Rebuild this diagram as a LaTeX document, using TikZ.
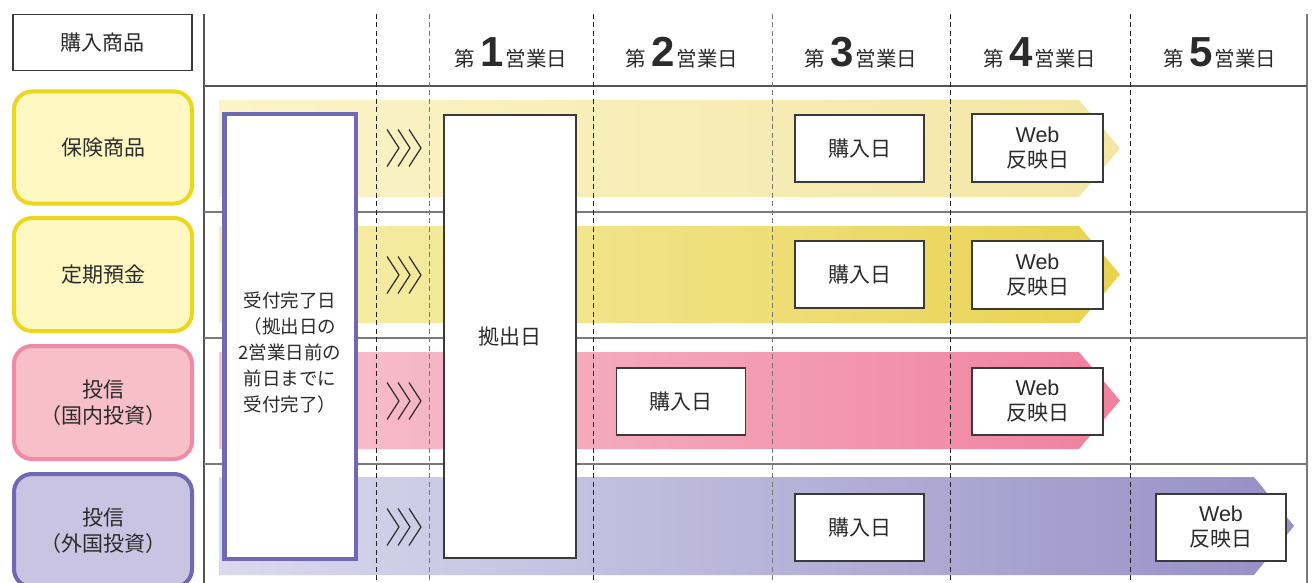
\documentclass[tikz,border=0pt]{standalone}
\usepackage{fontspec}
\setmainfont{Noto Sans CJK JP}
\newfontfamily\lib{Liberation Sans}
\definecolor{ink}{HTML}{2B2B2B}
\definecolor{gline}{HTML}{555555}
\definecolor{gline2}{HTML}{7A7A7A}
\definecolor{dashdark}{HTML}{222222}
\definecolor{dashgray}{HTML}{777777}
\definecolor{boxline}{HTML}{3A3A3A}
\definecolor{yelB}{HTML}{EBD71E}
\definecolor{yelF}{HTML}{FFF8C2}
\definecolor{pinkB}{HTML}{F08BA6}
\definecolor{pinkF}{HTML}{F7BFC8}
\definecolor{purB}{HTML}{6F68B4}
\definecolor{purF}{HTML}{C9C4E2}
\definecolor{rOneL}{HTML}{FBF4C8}
\definecolor{rOneR}{HTML}{F3E6A5}
\definecolor{rTwoL}{HTML}{F7F0B2}
\definecolor{rTwoR}{HTML}{E8D24F}
\definecolor{rThrL}{HTML}{F7C5D1}
\definecolor{rThrR}{HTML}{F0819E}
\definecolor{rFouL}{HTML}{DBD9EE}
\definecolor{rFouR}{HTML}{978FC5}
\newcommand\daynum[1]{第{\lib\bfseries\fontsize{42}{42}\selectfont\hspace{5pt}#1\hspace{2pt}}営業日}
\tikzset{
  gridline/.style={draw=#1, line width=1.2pt},
  dayline/.style={draw=#1, line width=1pt, dash pattern=on 5pt off 3.5pt},
  lbl/.style={rounded corners=18pt, line width=4pt, minimum width=178pt, minimum height=113pt, text=ink, align=center, font=\fontsize{21}{26}\selectfont, inner sep=0pt},
  wbox/.style={draw=boxline, fill=white, line width=1.2pt, align=center, text=ink, font=\fontsize{21}{25}\selectfont, inner sep=0pt},
  chev/.style={draw=ink, line width=1.2pt},
  hdr/.style={text=ink, font=\fontsize{20.5}{24}\selectfont, anchor=base, inner sep=0pt}
}
\begin{document}
\begin{tikzpicture}[x=1pt,y=-1pt]
\useasboundingbox[fill=white] (0,0) rectangle (1312,583);
% grid
\draw[gridline=gline] (204,14) -- (204,590);
\draw[draw=gline2, line width=2pt] (1307,14) -- (1307,590);
\draw[gridline=gline] (204,86) -- (1307,86);
\foreach \yy in {212,338,464} \draw[gridline=gline2] (204,\yy) -- (1307,\yy);
% bands
\shade[left color=rOneL, right color=rOneR] (219,100) -- (1079,100) -- (1120,148.5) -- (1079,197) -- (219,197) -- cycle;
\shade[left color=rTwoL, right color=rTwoR] (219,226) -- (1079,226) -- (1120,274.5) -- (1079,323) -- (219,323) -- cycle;
\shade[left color=rThrL, right color=rThrR] (219,352) -- (1079,352) -- (1120,400.5) -- (1079,449) -- (219,449) -- cycle;
\shade[left color=rFouL, right color=rFouR] (219,477) -- (1254,477) -- (1294,526) -- (1254,575) -- (219,575) -- cycle;
% day lines
\foreach \xx/\cc in {376/dashdark,429/dashgray,593/dashdark,772/dashgray,950/dashdark,1130/dashdark}
  \draw[dayline=\cc] (\xx,14) -- (\xx,590);
% header
\node[draw=boxline, line width=1.2pt, minimum width=179pt, minimum height=56pt, text=ink, font=\fontsize{21}{25}\selectfont, inner sep=0pt] (head) at (102.5,42.5) {購入商品};
\node[hdr] (d1) at (511,67) {\daynum{1}};
\node[hdr] (d2) at (682,67) {\daynum{2}};
\node[hdr] (d3) at (861,67) {\daynum{3}};
\node[hdr] (d4) at (1040,67) {\daynum{4}};
\node[hdr] (d5) at (1220,67) {\daynum{5}};
% row labels
\node[lbl, draw=yelB, fill=yelF, minimum height=112pt] (l1) at (103,147.5) {保険商品};
\node[lbl, draw=yelB, fill=yelF] (l2) at (103,274.5) {定期預金};
\node[lbl, draw=pinkB, fill=pinkF] (l3) at (103,402.5) {投信\\（国内投資）};
\node[lbl, draw=purB, fill=purF] (l4) at (103,530.5) {投信\\（外国投資）};
% big boxes
\node[draw=purB, fill=white, line width=4.5pt, minimum width=131.5pt, minimum height=444.5pt, inner sep=0pt] (uk) at (290,336.5) {};
\node[text=ink, align=center, font=\fontsize{18.5}{25.8}\selectfont, inner sep=0pt] (uktext) at (290,352.5) {受付完了日\\（拠出日の\\2営業日前の\\前日までに\\受付完了）};
\node[wbox, minimum width=132pt, minimum height=443pt] (ks) at (510,336.5) {拠出日};
% purchase day boxes
\node[wbox, minimum width=129pt, minimum height=67pt] (k1) at (859.5,148.5) {購入日};
\node[wbox, minimum width=129pt, minimum height=67pt] (k2) at (859.5,274.5) {購入日};
\node[wbox, minimum width=129pt, minimum height=67pt] (k3) at (681,401.5) {購入日};
\node[wbox, minimum width=129pt, minimum height=67pt] (k4) at (859.5,527.5) {購入日};
% web boxes
\node[wbox, minimum width=131pt, minimum height=68pt] (w1) at (1037.5,148) {{\lib\fontsize{21.5}{25}\selectfont Web}\\反映日};
\node[wbox, minimum width=131pt, minimum height=68pt] (w2) at (1037.5,275) {{\lib\fontsize{21.5}{25}\selectfont Web}\\反映日};
\node[wbox, minimum width=131pt, minimum height=67pt] (w3) at (1037.5,401.5) {{\lib\fontsize{21.5}{25}\selectfont Web}\\反映日};
\node[wbox, minimum width=130pt, minimum height=67pt] (w4) at (1221,527.5) {{\lib\fontsize{21.5}{25}\selectfont Web}\\反映日};
% chevrons
\foreach \cy in {148,275,401,527}
  \foreach \cx in {387,398,409}
    \draw[chev] (\cx,\cy-18.5) -- (\cx+12,\cy) -- (\cx,\cy+18.5);
\end{tikzpicture}
\end{document}
